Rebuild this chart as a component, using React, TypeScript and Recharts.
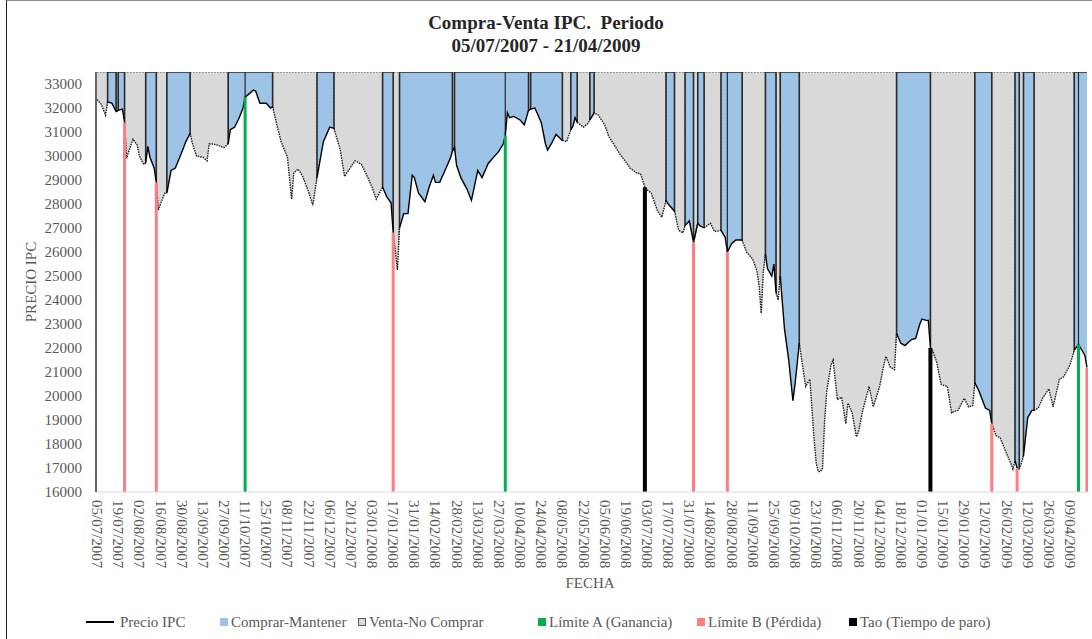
import React from 'react';
import { ComposedChart, Area, Line, XAxis, YAxis } from 'recharts';

// ---------- DATA ----------
const fechas = [
  '05/07/2007','09/07/2007','11/07/2007','12/07/2007','16/07/2007','18/07/2007','19/07/2007','23/07/2007','24/07/2007','25/07/2007','26/07/2007','30/07/2007',
  '01/08/2007','02/08/2007','06/08/2007','07/08/2007','08/08/2007','09/08/2007','13/08/2007','14/08/2007','15/08/2007','16/08/2007','20/08/2007','21/08/2007','23/08/2007','27/08/2007','30/08/2007',
  '03/09/2007','05/09/2007','06/09/2007','10/09/2007','13/09/2007','17/09/2007','18/09/2007','20/09/2007','24/09/2007','27/09/2007',
  '01/10/2007','02/10/2007','04/10/2007','08/10/2007','10/10/2007','11/10/2007','15/10/2007','17/10/2007','18/10/2007','22/10/2007','25/10/2007','29/10/2007','30/10/2007',
  '01/11/2007','05/11/2007','08/11/2007','12/11/2007','13/11/2007','15/11/2007','19/11/2007','22/11/2007','26/11/2007','28/11/2007','29/11/2007',
  '03/12/2007','06/12/2007','10/12/2007','13/12/2007','17/12/2007','20/12/2007','24/12/2007','27/12/2007','31/12/2007',
  '03/01/2008','07/01/2008','10/01/2008','14/01/2008','16/01/2008','17/01/2008','21/01/2008','22/01/2008','24/01/2008','28/01/2008','30/01/2008','31/01/2008',
  '04/02/2008','07/02/2008','11/02/2008','13/02/2008','14/02/2008','18/02/2008','21/02/2008','25/02/2008','26/02/2008','27/02/2008','28/02/2008',
  '03/03/2008','06/03/2008','10/03/2008','13/03/2008','17/03/2008','20/03/2008','24/03/2008','27/03/2008','31/03/2008',
  '01/04/2008','02/04/2008','03/04/2008','07/04/2008','10/04/2008','14/04/2008','16/04/2008','17/04/2008','21/04/2008','24/04/2008','28/04/2008','29/04/2008',
  '01/05/2008','05/05/2008','08/05/2008','12/05/2008','14/05/2008','15/05/2008','16/05/2008','19/05/2008','22/05/2008','26/05/2008','27/05/2008','29/05/2008',
  '02/06/2008','05/06/2008','09/06/2008','12/06/2008','16/06/2008','19/06/2008','23/06/2008','26/06/2008','30/06/2008',
  '02/07/2008','03/07/2008','07/07/2008','10/07/2008','14/07/2008','16/07/2008','17/07/2008','21/07/2008','22/07/2008','24/07/2008','28/07/2008','29/07/2008','31/07/2008',
  '04/08/2008','06/08/2008','07/08/2008','11/08/2008','14/08/2008','18/08/2008','21/08/2008','25/08/2008','26/08/2008','28/08/2008',
  '01/09/2008','04/09/2008','08/09/2008','11/09/2008','15/09/2008','16/09/2008','17/09/2008','18/09/2008','19/09/2008','22/09/2008','24/09/2008','25/09/2008','26/09/2008','29/09/2008','30/09/2008',
  '02/10/2008','06/10/2008','08/10/2008','09/10/2008','13/10/2008','16/10/2008','20/10/2008','22/10/2008','23/10/2008','24/10/2008','27/10/2008','28/10/2008','29/10/2008','30/10/2008',
  '03/11/2008','04/11/2008','06/11/2008','10/11/2008','12/11/2008','13/11/2008','17/11/2008','19/11/2008','20/11/2008','24/11/2008','27/11/2008',
  '01/12/2008','04/12/2008','08/12/2008','09/12/2008','11/12/2008','15/12/2008','16/12/2008','18/12/2008','22/12/2008','25/12/2008','29/12/2008','31/12/2008',
  '01/01/2009','05/01/2009','06/01/2009','07/01/2009','08/01/2009','12/01/2009','14/01/2009','15/01/2009','19/01/2009','21/01/2009','22/01/2009','26/01/2009','29/01/2009',
  '02/02/2009','04/02/2009','05/02/2009','09/02/2009','12/02/2009','16/02/2009','17/02/2009','19/02/2009','23/02/2009','26/02/2009',
  '02/03/2009','03/03/2009','04/03/2009','05/03/2009','06/03/2009','09/03/2009','10/03/2009','12/03/2009','16/03/2009','17/03/2009','19/03/2009','23/03/2009','26/03/2009','30/03/2009',
  '02/04/2009','06/04/2009','09/04/2009','13/04/2009','15/04/2009','16/04/2009','20/04/2009','21/04/2009',
];

const precios = [
  32350,32150,31700,32250,32200,31850,31900,31950,31400,29900,30200,30700,
  30450,30000,29650,29700,30400,29950,29500,28900,27750,28000,28450,28450,29400,29500,30150,
  30600,30950,30550,30000,29950,29800,30500,30500,30450,30350,
  30500,31100,31200,31550,32000,32450,32600,32750,32700,32200,32200,32000,32050,
  31300,30600,29950,28200,29300,29450,29200,28500,27950,29100,29600,
  30600,31200,31150,30250,29150,29550,29800,29650,29300,
  28700,28200,28700,28300,28050,26800,25250,27000,27600,27600,29200,29100,
  28450,28100,28700,29200,28900,28900,29500,29900,30200,30350,29600,
  29100,28600,28150,29400,29100,29700,29900,30200,30500,
  30850,31800,31600,31650,31500,31300,31900,31950,32000,31400,30500,30250,
  30550,30900,30650,30600,31100,31250,31600,31400,31200,31350,31500,31800,
  31700,31300,30800,30400,30100,29750,29500,29300,29250,
  28700,28600,28450,27700,27450,28150,28000,27800,27700,26900,26800,27100,27300,
  26400,27200,27100,27000,27200,26850,26900,26600,26000,26350,
  26500,26500,26000,25700,25200,24600,23450,25200,25900,25300,25000,25500,24300,24000,25000,
  22800,21500,19800,20500,22200,20400,20700,18200,17200,16850,16850,17000,19000,20200,
  21300,21500,19850,19950,18850,19700,19300,18300,18500,19400,20400,
  19550,20400,21300,21650,21200,21100,22600,22200,22100,22350,22400,23000,
  23200,23150,23150,22000,21900,21400,20500,20450,20400,19300,19350,19400,19900,
  19550,19600,20550,20200,19500,19400,18850,18350,18250,17600,
  17200,16950,17300,17000,16950,17200,17500,19100,19400,19400,19500,19900,20300,19550,
  20700,20800,21300,21900,22150,22000,21700,21200,
];

// Regime switches: 'C' = Comprar-Mantener, 'V' = Venta-No Comprar
const cambioFechas = [
  '05/07/2007','12/07/2007','18/07/2007','19/07/2007','24/07/2007','07/08/2007','14/08/2007','21/08/2007','05/09/2007','01/10/2007',
  '30/10/2007','28/11/2007','10/12/2007','10/01/2008','17/01/2008','22/01/2008','26/02/2008','27/02/2008','16/04/2008','17/04/2008',
  '08/05/2008','14/05/2008','19/05/2008','27/05/2008','29/05/2008','16/07/2008','22/07/2008','29/07/2008','04/08/2008','06/08/2008',
  '11/08/2008','21/08/2008','04/09/2008','19/09/2008','26/09/2008','30/09/2008','13/10/2008','16/12/2008','07/01/2009','05/02/2009',
  '17/02/2009','04/03/2009','06/03/2009','10/03/2009','17/03/2009','13/04/2009',
];
const cambioTipo = [
  'V','C','V','C','V','C','V','C','V','C',
  'V','C','V','C','V','C','V','C','V','C',
  'V','C','V','C','V','C','V','C','V','C',
  'V','C','V','C','V','C','V','C','V','C',
  'V','C','V','C','V','C',
];

// Dates where one buy segment ends and a new one starts (area border above the price)
const bordesCompra = ['11/10/2007', '01/04/2008', '26/08/2008', '15/04/2009'];

const limiteA = ['11/10/2007', '01/04/2008', '15/04/2009'];
const limiteB = ['24/07/2007', '14/08/2007', '17/01/2008', '04/08/2008', '26/08/2008', '17/02/2009', '05/03/2009', '21/04/2009'];
const tao = ['02/07/2008', '07/01/2009'];

const etiquetasX = [
  '05/07/2007','19/07/2007','02/08/2007','16/08/2007','30/08/2007','13/09/2007','27/09/2007','11/10/2007','25/10/2007','08/11/2007',
  '22/11/2007','06/12/2007','20/12/2007','03/01/2008','17/01/2008','31/01/2008','14/02/2008','28/02/2008','13/03/2008','27/03/2008',
  '10/04/2008','24/04/2008','08/05/2008','22/05/2008','05/06/2008','19/06/2008','03/07/2008','17/07/2008','31/07/2008','14/08/2008',
  '28/08/2008','11/09/2008','25/09/2008','09/10/2008','23/10/2008','06/11/2008','20/11/2008','04/12/2008','18/12/2008','01/01/2009',
  '15/01/2009','29/01/2009','12/02/2009','26/02/2009','12/03/2009','26/03/2009','09/04/2009',
];
const ticksY = [16000,17000,18000,19000,20000,21000,22000,23000,24000,25000,26000,27000,28000,29000,30000,31000,32000,33000];

const leyenda = [
  { nombre: 'Precio IPC', tipo: 'linea', color: '#000000' },
  { nombre: 'Comprar-Mantener', tipo: 'cuadro', color: '#9dc3e6' },
  { nombre: 'Venta-No Comprar', tipo: 'cuadro', color: '#d9d9d9', borde: '#595959' },
  { nombre: 'Límite A (Ganancia)', tipo: 'cuadro', color: '#00b050' },
  { nombre: 'Límite B (Pérdida)', tipo: 'cuadro', color: '#ff7c80' },
  { nombre: 'Tao (Tiempo de paro)', tipo: 'cuadro', color: '#000000' },
];

// ---------- HELPERS ----------
const START = Date.UTC(2007, 6, 5); // Thursday
function sesion(f: string): number {
  const [d, m, y] = f.split('/').map(Number);
  const days = Math.round((Date.UTC(y, m - 1, d) - START) / 86400000);
  const w = Math.floor(days / 7);
  const r = days % 7;
  return 5 * w + [0, 1, 2, 2, 2, 3, 4][r];
}

const TOP = 33500;
const LOW = 10000;
const cambioSes = cambioFechas.map(sesion);
const estados = fechas.map((f) => {
  const s = sesion(f);
  let st = 'V';
  cambioSes.forEach((c, i) => { if (c <= s) st = cambioTipo[i]; });
  return st;
});

const data = fechas.map((f, i) => ({
  x: sesion(f),
  fecha: f,
  precio: precios[i],
  comprar: estados[i] === 'C' ? TOP : LOW,
  venta: estados[i] === 'V' ? TOP : LOW,
  precioC: estados[i] === 'C' || (i > 0 && estados[i - 1] === 'C') ? precios[i] : null,
  precioV: estados[i] === 'V' || (i > 0 && estados[i - 1] === 'V') ? precios[i] : null,
}));

const eventos = (lista: string[]) =>
  lista.flatMap((f) => {
    const x = sesion(f);
    const p = precios[fechas.indexOf(f)];
    return [{ x, y: 16000 }, { x, y: p }, { x, y: null }];
  });

const bordes = (lista: string[]) =>
  lista.flatMap((f) => {
    const x = sesion(f);
    const p = precios[fechas.indexOf(f)];
    return [{ x, y: p }, { x, y: TOP }, { x, y: null }];
  });

const ticksX = etiquetasX.map(sesion);
const FONT = "'Liberation Serif', 'Times New Roman', serif";
const TXT = '#595959';

const XTick = (props: any) => {
  const { x, y, payload } = props;
  const idx = ticksX.indexOf(payload.value);
  return (
    <text
      x={x}
      y={y}
      transform={`rotate(90 ${x} ${y})`}
      textAnchor="start"
      dominantBaseline="central"
      fontSize={15}
      fontFamily={FONT}
      fill={TXT}
    >
      {idx >= 0 ? etiquetasX[idx] : ''}
    </text>
  );
};

const legendLeft = [86, 220, 358, 538, 697, 849];

export default function App() {
  return (
    <div style={{ position: 'absolute', left: 0, top: 0, width: 1092, height: 639, background: '#fff', overflow: 'hidden' }}>
      <div style={{ position: 'absolute', left: 6, top: 0, width: 1100, height: 660, borderLeft: '1.5px solid #222', borderTop: '1px solid #8c8c8c' }} />
      <div
        style={{
          position: 'absolute', left: 0, top: 11, width: 1092, textAlign: 'center', fontFamily: FONT,
          fontWeight: 'bold', fontSize: 19, lineHeight: '23px', color: '#262626', whiteSpace: 'pre',
        }}
      >
        {'Compra-Venta IPC.  Periodo\n05/07/2007 - 21/04/2009'}
      </div>
      <ComposedChart
        width={1092}
        height={639}
        data={data}
        margin={{ top: 72, right: 4, bottom: 47, left: 0 }}
        style={{ position: 'absolute', left: 0, top: 0 }}
      >
        <XAxis
          type="number"
          dataKey="x"
          domain={[-0.5, 468.5]}
          ticks={ticksX}
          interval={0}
          tick={<XTick />}
          tickLine={false}
          axisLine={{ stroke: '#d9d9d9', strokeWidth: 1 }}
          height={100}
          allowDataOverflow
        />
        <YAxis
          type="number"
          domain={[16000, 33500]}
          ticks={ticksY}
          interval={0}
          tickLine={false}
          axisLine={{ stroke: '#000', strokeWidth: 1.2 }}
          tickMargin={8}
          width={96}
          allowDataOverflow
          tick={{ fontSize: 15, fill: TXT, fontFamily: FONT }}
        />
        <Area
          type="stepAfter"
          dataKey="venta"
          name="Venta-No Comprar"
          fill="#d9d9d9"
          fillOpacity={1}
          stroke="#3a3a3a"
          strokeWidth={1}
          strokeDasharray="1.5 1.5"
          isAnimationActive={false}
          activeDot={false}
        />
        <Area
          type="stepAfter"
          dataKey="comprar"
          name="Comprar-Mantener"
          fill="#9dc3e6"
          fillOpacity={1}
          stroke="#2a2a2a"
          strokeWidth={1.6}
          isAnimationActive={false}
          activeDot={false}
        />
        <Area
          type="linear"
          dataKey="precio"
          baseValue={16000}
          fill="#ffffff"
          fillOpacity={1}
          stroke="none"
          isAnimationActive={false}
          activeDot={false}
          legendType="none"
        />
        <Line
          data={bordes(bordesCompra)}
          dataKey="y"
          stroke="#2a2a2a"
          strokeWidth={1.2}
          dot={false}
          activeDot={false}
          connectNulls={false}
          isAnimationActive={false}
          legendType="none"
        />
        <Line
          type="linear"
          dataKey="precioV"
          stroke="#1a1a1a"
          strokeWidth={1.4}
          strokeDasharray="1.5 1"
          dot={false}
          activeDot={false}
          connectNulls={false}
          isAnimationActive={false}
          legendType="none"
        />
        <Line
          type="linear"
          dataKey="precioC"
          name="Precio IPC"
          stroke="#000"
          strokeWidth={1.4}
          dot={false}
          activeDot={false}
          connectNulls={false}
          isAnimationActive={false}
        />
        <Line
          data={eventos(limiteA)}
          dataKey="y"
          name="Límite A (Ganancia)"
          stroke="#00b050"
          strokeWidth={3}
          dot={false}
          activeDot={false}
          connectNulls={false}
          isAnimationActive={false}
        />
        <Line
          data={eventos(limiteB)}
          dataKey="y"
          name="Límite B (Pérdida)"
          stroke="#ff7c80"
          strokeWidth={3}
          dot={false}
          activeDot={false}
          connectNulls={false}
          isAnimationActive={false}
        />
        <Line
          data={eventos(tao)}
          dataKey="y"
          name="Tao (Tiempo de paro)"
          stroke="#000"
          strokeWidth={4}
          dot={false}
          activeDot={false}
          connectNulls={false}
          isAnimationActive={false}
        />
      </ComposedChart>
      <div
        style={{
          position: 'absolute', left: 31 - 100, top: 282 - 10, width: 200, height: 20, lineHeight: '20px',
          textAlign: 'center', transform: 'rotate(-90deg)', fontFamily: FONT, fontSize: 15, color: TXT,
        }}
      >
        PRECIO IPC
      </div>
      <div
        style={{
          position: 'absolute', left: 490, top: 573, width: 200, height: 20, lineHeight: '20px',
          textAlign: 'center', fontFamily: FONT, fontSize: 15, color: TXT,
        }}
      >
        FECHA
      </div>
      {leyenda.map((it, i) => (
        <div key={it.nombre} style={{ position: 'absolute', left: legendLeft[i], top: 612, height: 20, display: 'flex', alignItems: 'center' }}>
          {it.tipo === 'linea' ? (
            <div style={{ width: 28, height: 2.5, background: it.color, marginRight: 6 }} />
          ) : (
            <div
              style={{
                width: 8, height: 8, background: it.color, marginRight: 3, boxSizing: 'border-box',
                border: it.borde ? `1px solid ${it.borde}` : 'none',
              }}
            />
          )}
          <span style={{ fontFamily: FONT, fontSize: 15, color: TXT, whiteSpace: 'nowrap', lineHeight: '20px' }}>{it.nombre}</span>
        </div>
      ))}
    </div>
  );
}
